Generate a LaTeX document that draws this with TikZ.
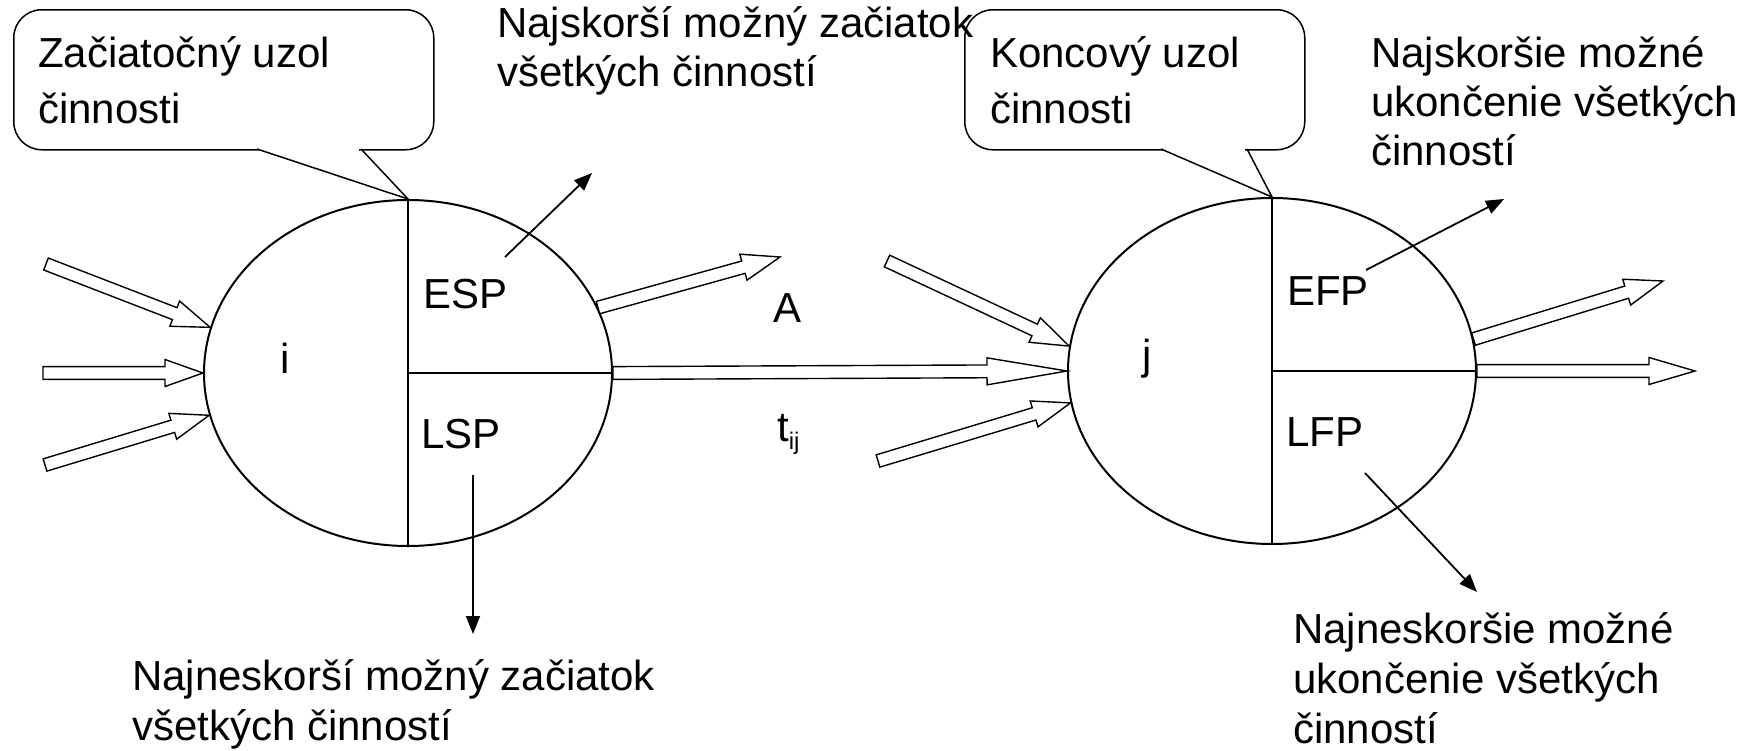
\documentclass[tikz,border=0pt]{standalone}
\usepackage{fontspec}
\setmainfont{Liberation Sans}
\usetikzlibrary{shapes.geometric,arrows.meta,calc}
\tikzset{
  txt/.style={inner sep=0pt, anchor=base west, font=\fontsize{42}{49}\selectfont},
  btxt/.style={inner sep=0pt, anchor=base west, font=\fontsize{42}{50}\selectfont},
  ctxt/.style={inner sep=0pt, anchor=base west, font=\fontsize{42}{56}\selectfont},
  lbl/.style={inner sep=0pt, anchor=base, font=\fontsize{42}{49}\selectfont},
  uzol/.style={draw, ellipse, line width=2pt, minimum width=408pt, minimum height=346pt, inner sep=0pt},
  cbox/.style={draw, rounded corners=28pt, line width=1.5pt, fill=white, minimum width=#1, minimum height=140pt, anchor=north west, inner sep=0pt},
  thinarrow/.style={line width=1.8pt, -{Triangle[length=18pt,width=14pt]}},
  hollow/.style={draw, fill=white, line width=1.4pt, line join=miter, to path={
    (\tikztostart) coordinate (hA) (\tikztotarget) coordinate (hB)
    ($(hB)!#1!(hA)$) coordinate (hC)
    ($(hA)!6.4pt!90:(hB)$) -- ($(hC)!6.4pt!90:(hB)$) -- ($(hC)!13.5pt!90:(hB)$) -- (hB)
    -- ($(hC)!13.5pt!-90:(hB)$) -- ($(hC)!6.4pt!-90:(hB)$) -- ($(hA)!6.4pt!-90:(hB)$) -- cycle}},
  hollow/.default=38pt
}
\begin{document}
\begin{tikzpicture}[x=1pt,y=-1pt]
\useasboundingbox (0,0) rectangle (1751,750);

% nodes (ellipses)
\node[uzol] (ei) at (408,373) {};
\node[uzol] (ej) at (1272,371) {};
\draw[line width=2pt] (ei.north) -- (ei.south);
\draw[line width=2.8pt] (ei.center) -- (ei.east);
\draw[line width=2pt] (ej.north) -- (ej.south);
\draw[line width=2.8pt] (ej.center) -- (ej.east);

% labels inside
\node[lbl] (li) at (285,373) {i};
\node[lbl] (lj) at (1147,369) {j};
\node[txt] (esp) at (423,308) {ESP};
\node[txt] (lsp) at (421,448) {LSP};
\node[txt] (efp) at (1287,305) {EFP};
\node[txt] (lfp) at (1286,446) {LFP};
\node[lbl] (la) at (787,322) {A};
\node[txt] (tij) at (777,441) {t\raisebox{-8pt}{\fontsize{24}{24}\selectfont ij}};

% free ends
\coordinate (t1) at (46,264);
\coordinate (t2) at (43,373);
\coordinate (t3) at (45,465);
\coordinate (h4) at (780,257);
\coordinate (t6) at (887,261);
\coordinate (t7) at (878,461);
\coordinate (h8) at (1663,281);
\coordinate (h9) at (1695,371);

% hollow arrows
\path[hollow] (t1) to (ei.167.5);
\path[hollow] (t2) to (ei.180);
\path[hollow] (t3) to (ei.192);
\path[hollow] (ei.19) to (h4);
\path[hollow=80pt] (ei.0) to (ej.180);
\path[hollow] (t6) to (ej.173);
\path[hollow] (t7) to (ej.189);
\path[hollow] (ej.9.7) to (h8);
\path[hollow=46pt] (ej.0) to (h9);

% callouts
\node[cbox=420pt] (c1) at (13,9) {};
\node[ctxt] (c1t) at ($(c1.north west)+(25,58)$) {\begin{tabular}[t]{@{}l@{}}Začiatočný uzol\\činnosti\end{tabular}};
\coordinate (p1) at (257,149);
\coordinate (p2) at (361,149);
\fill[white] (259,146) rectangle (359,152);
\draw[line width=1.5pt] (p1) -- (ei.north) -- (p2);

\node[cbox=340pt] (c2) at (964,9) {};
\node[ctxt] (c2t) at ($(c2.north west)+(26,58)$) {\begin{tabular}[t]{@{}l@{}}Koncový uzol\\činnosti\end{tabular}};
\coordinate (p3) at (1161,149);
\coordinate (p4) at (1247,149);
\fill[white] (1163,146) rectangle (1245,152);
\draw[line width=1.5pt] (p3) -- (ej.north) -- (p4);

% free texts
\node[txt] (top1) at (497,37) {\begin{tabular}[t]{@{}l@{}}Najskorší možný začiatok\\všetkých činností\end{tabular}};
\node[txt] (top2) at (1371,67) {\begin{tabular}[t]{@{}l@{}}Najskoršie možné\\ukončenie všetkých\\činností\end{tabular}};
\node[btxt] (bot1) at (132,690) {\begin{tabular}[t]{@{}l@{}}Najneskorší možný začiatok\\všetkých činností\end{tabular}};
\node[btxt] (bot2) at (1293,643) {\begin{tabular}[t]{@{}l@{}}Najneskoršie možné\\ukončenie všetkých\\činností\end{tabular}};

% thin arrows
\coordinate (a1s) at (505,257); \coordinate (a1e) at (592,173);
\coordinate (a2s) at (473,475); \coordinate (a2e) at (473,634);
\coordinate (a3s) at (1366,270); \coordinate (a3e) at (1504,199);
\coordinate (a4s) at (1365,473); \coordinate (a4e) at (1477,592);
\draw[thinarrow] (a1s) -- (a1e);
\draw[thinarrow] (a2s) -- (a2e);
\draw[thinarrow] (a3s) -- (a3e);
\draw[thinarrow] (a4s) -- (a4e);
\end{tikzpicture}
\end{document}
